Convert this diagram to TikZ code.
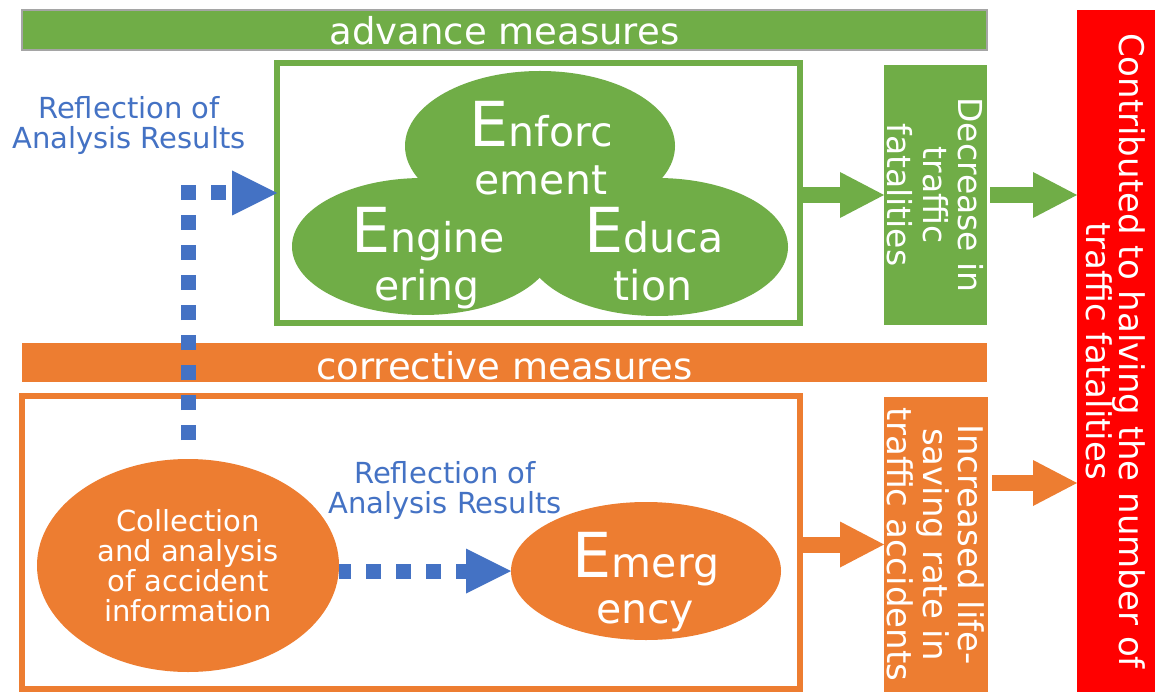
\documentclass[tikz,border=0pt]{standalone}
\usepackage{fontspec}
\setmainfont{DejaVu Sans}
\usetikzlibrary{shapes.geometric,arrows.meta}
\definecolor{gr}{HTML}{70AD47}
\definecolor{og}{HTML}{ED7D31}
\definecolor{bl}{HTML}{4472C4}
\definecolor{rd}{HTML}{FF0000}
\definecolor{gy}{HTML}{A5A5A5}
\newcommand\capE[1]{{\fontsize{62}{62}\selectfont #1}}
\newcommand\tightlines{\lineskiplimit=-50pt\relax}
\begin{document}
\begin{tikzpicture}[x=1pt,y=-1pt,
  box/.style={rectangle, inner sep=0pt, outer sep=0pt},
  banner/.style={box, minimum width=965pt},
  boxframe/.style={rectangle, inner sep=0pt, line width=6pt, outer sep=3pt},
  blob/.style={ellipse, inner sep=0pt, outer sep=0pt},
  etext/.style={text=white, anchor=base, inner sep=0pt, font=\fontsize{41}{41}\selectfont},
  bantext/.style={text=white, anchor=base, inner sep=0pt, font=\fontsize{37}{37}\selectfont},
  vtext/.style={text=white, rotate=-90, align=center, inner sep=0pt},
  bluenote/.style={text=bl, align=center, inner sep=0pt, font=\fontsize{29}{30}\selectfont},
  bigarrow/.style={line width=16pt, -{Triangle[length=44pt,width=46pt,line width=0pt]}},
  dotarrow/.style={draw=bl, line width=15pt, dash pattern=on 15pt off 15pt, -{Triangle[length=45pt,width=45pt,line width=0pt]}}
]
\path[fill=white] (0,0) rectangle (1155,692);
\useasboundingbox (0,0) rectangle (1155,692);

% banners
\node[banner, fill=gr, draw=gy, line width=1.5pt, minimum height=40pt] (gban) at (504.5,30) {};
\node[banner, fill=og, minimum height=39pt] (oban) at (504.5,362.5) {};
\node[bantext] (gbt) at (504.5,45) {advance measures};
\node[bantext] (obt) at (504.5,379) {corrective measures};

% frames
\node[boxframe, draw=gr, minimum width=523pt, minimum height=260pt] (gframe) at (538.5,193) {};
\node[boxframe, draw=og, minimum width=778pt, minimum height=293pt] (oframe) at (411,542.5) {};

% cloud of three E's
\node[blob, fill=gr, minimum width=270pt, minimum height=150pt] (enf) at (540,146) {};
\node[blob, fill=gr, minimum width=262pt, minimum height=137pt] (eng) at (423,246.5) {};
\node[blob, fill=gr, minimum width=262pt, minimum height=138pt] (edu) at (657,247) {};
\node[etext] (enf1) at (541,147) {\capE{E}nforc};
\node[etext] (enf2) at (541,195) {ement};
\node[etext] (eng1) at (428,253) {\capE{E}ngine};
\node[etext] (eng2) at (427,300) {ering};
\node[etext] (edu1) at (654,253) {\capE{E}duca};
\node[etext] (edu2) at (653,300) {tion};

% corrective part
\node[blob, fill=og, minimum width=302pt, minimum height=213pt, text=white, align=center, font=\fontsize{29}{30}\selectfont] (coll) at (188,565.5) {Collection\\and analysis\\of accident\\information};
\node[blob, fill=og, minimum width=270pt, minimum height=138pt] (emerg) at (646,571) {};
\node[etext] (emg1) at (646,577) {\capE{E}merg};
\node[etext] (emg2) at (645,623) {ency};

% result boxes
\node[box, fill=gr, minimum width=103pt, minimum height=260pt] (dec) at (935.5,195) {};
\node[box, fill=og, minimum width=104pt, minimum height=295pt] (inc) at (936,544.5) {};
\node[box, fill=rd, minimum width=78pt, minimum height=682pt] (red) at (1116,351) {};
\node[vtext, font=\fontsize{33}{35.5}\selectfont] (dect) at (dec.center) {Decrease in\\traffic\\fatalities};
\node[vtext, font=\fontsize{34}{35.5}\selectfont] (inct) at (inc.center) {Increased life-\\saving rate in\\traffic accidents};
\node[vtext, font=\fontsize{34}{33}\selectfont\tightlines] (redt) at (red.center) {Contributed to halving the number of\\traffic fatalities};

% blue notes
\node[bluenote] (note1) at (129,125.4) {Reflection of\\Analysis Results};
\node[bluenote] (note2) at (445,490.4) {Reflection of\\Analysis Results};

% block arrows
\draw[gr, bigarrow] (gframe.east |- dec.west) -- (dec.west);
\draw[gr, bigarrow, shorten <=3pt] (dec.east) -- (dec.east -| red.west);
\draw[og, bigarrow] (oframe.east |- inc.west) -- (inc.west);
\coordinate (incout) at ([yshift=61.5pt]inc.east);
\draw[og, bigarrow, shorten <=4pt] (incout) -- (incout -| red.west);

% dotted blue arrows
\draw[dotarrow, dash phase=22pt] ([yshift=11pt]coll.north) |- ([xshift=3pt]gframe.west);
\draw[dotarrow, dash phase=3pt] (coll.east |- emerg.west) -- (emerg.west);
\end{tikzpicture}
\end{document}
